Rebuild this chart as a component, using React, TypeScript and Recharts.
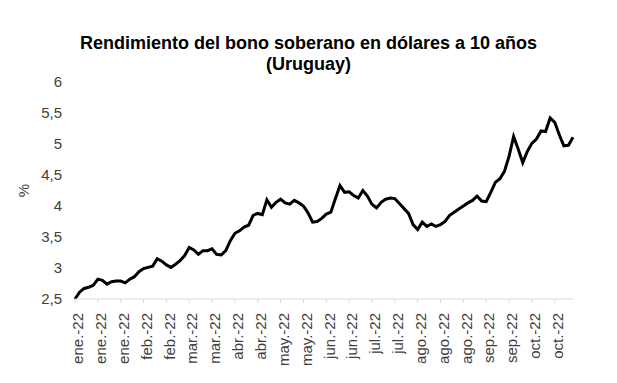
import { LineChart, Line, XAxis, YAxis, Label } from 'recharts'

// every 5th point gets a label (points are ~2 business days apart)
const TICK_LABELS = [
  'ene.-22', 'ene.-22', 'ene.-22', 'feb.-22', 'feb.-22', 'mar.-22', 'mar.-22', 'abr.-22',
  'abr.-22', 'may.-22', 'may.-22', 'jun.-22', 'jun.-22', 'jul.-22', 'jul.-22', 'ago.-22',
  'ago.-22', 'ago.-22', 'sep.-22', 'sep.-22', 'oct.-22', 'oct.-22',
]

const Y_TICKS = [2.5, 3, 3.5, 4, 4.5, 5, 5.5, 6]

const YIELDS = [
  2.5, 2.61, 2.67, 2.69, 2.72, 2.82, 2.8, 2.74, 2.78, 2.79,
  2.79, 2.76, 2.82, 2.86, 2.94, 2.99, 3.01, 3.03, 3.15, 3.11,
  3.05, 3.01, 3.06, 3.12, 3.2, 3.33, 3.29, 3.22, 3.28, 3.28,
  3.31, 3.22, 3.21, 3.28, 3.44, 3.56, 3.6, 3.66, 3.69, 3.85,
  3.88, 3.86, 4.1, 3.98, 4.06, 4.11, 4.05, 4.03, 4.09, 4.05,
  4.0, 3.89, 3.74, 3.75, 3.8, 3.87, 3.9, 4.12, 4.33, 4.22,
  4.23, 4.17, 4.13, 4.25, 4.16, 4.03, 3.97, 4.06, 4.11, 4.13,
  4.12, 4.04, 3.96, 3.88, 3.7, 3.62, 3.74, 3.67, 3.71, 3.67,
  3.7, 3.75, 3.85, 3.9, 3.95, 4.0, 4.05, 4.09, 4.16, 4.08,
  4.07, 4.22, 4.38, 4.44, 4.56, 4.8, 5.12, 4.92, 4.7, 4.88,
  5.01, 5.08, 5.21, 5.2, 5.42, 5.35, 5.15, 4.97, 4.98, 5.11,
]

const data = YIELDS.map((v, i) => ({ i, v }))
const xTicks = TICK_LABELS.map((_, k) => k * 5)
const FONT = '"Liberation Sans", Arial, sans-serif'

function DateTick(props: any) {
  const { x, y, payload } = props
  return (
    <g transform={`translate(${x},${y + 8})`}>
      <text
        transform="rotate(-90)"
        textAnchor="end"
        dy="0.55em"
        fill="#404040"
        fontSize={15}
        fontFamily={FONT}
      >
        {TICK_LABELS[payload.value / 5]}
      </text>
    </g>
  )
}

export default function App() {
  return (
    <div style={{ position: 'absolute', left: 0, top: 0, width: 617, height: 383, background: '#fff' }}>
      <div
        style={{
          position: 'absolute',
          top: 33,
          left: 0,
          width: 617,
          textAlign: 'center',
          fontFamily: FONT,
          fontWeight: 'bold',
          fontSize: 18,
          lineHeight: '21px',
          color: '#000',
        }}
      >
        Rendimiento del bono soberano en dólares a 10 años
        <br />
        (Uruguay)
      </div>
      <LineChart width={617} height={383} data={data} margin={{ top: 82, right: 44, bottom: 14, left: 15 }}>
        <XAxis
          dataKey="i"
          type="number"
          domain={[0, 109]}
          ticks={xTicks}
          interval={0}
          height={70}
          stroke="#d9d9d9"
          tickSize={4}
          tick={<DateTick />}
        />
        <YAxis
          domain={[2.5, 6]}
          ticks={Y_TICKS}
          width={60}
          axisLine={false}
          tickLine={false}
          tickSize={0}
          tickMargin={13}
          tick={{ fill: '#404040', fontSize: 15, fontFamily: FONT }}
          tickFormatter={(v: number) => String(v).replace('.', ',')}
        >
          <Label
            value="%"
            angle={-90}
            position="insideLeft"
            offset={9}
            style={{ fill: '#404040', fontSize: 15, fontFamily: FONT, textAnchor: 'middle' }}
          />
        </YAxis>
        <Line
          type="linear"
          dataKey="v"
          stroke="#000"
          strokeWidth={3}
          dot={false}
          isAnimationActive={false}
        />
      </LineChart>
    </div>
  )
}
